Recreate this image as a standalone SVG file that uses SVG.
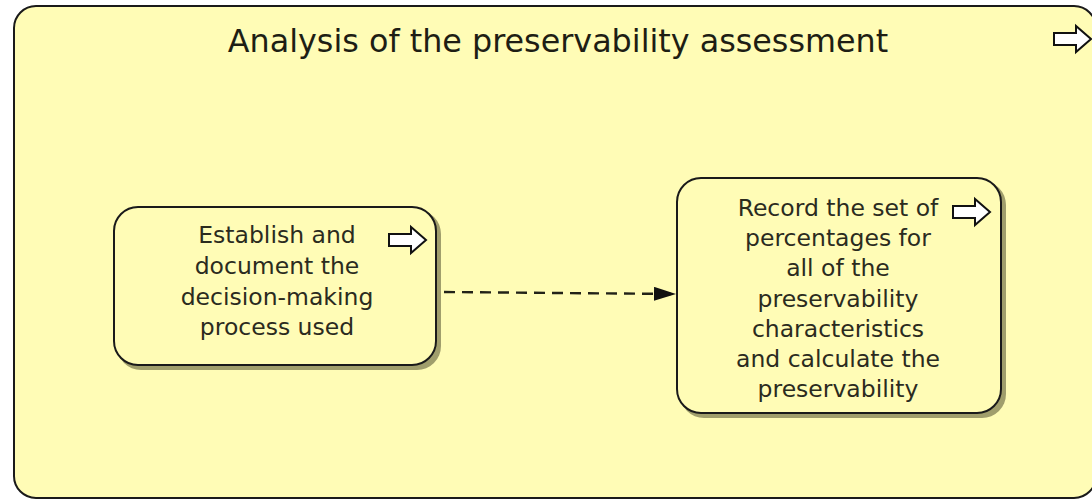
<svg xmlns="http://www.w3.org/2000/svg" width="1092" height="501" viewBox="0 0 1092 501">
  <style>
    .box { fill: #fffcb6; stroke: #1a1a1a; stroke-width: 2; }
    .shadow { fill: #a09e6c; }
    .label { font-family: "DejaVu Sans", sans-serif; font-size: 23.5px; fill: #2b2b1e; text-anchor: middle; }
    .title { font-family: "DejaVu Sans", sans-serif; font-size: 31.8px; fill: #1e1e14; text-anchor: middle; }
    .icon { fill: #ffffff; stroke: #111111; stroke-width: 2; stroke-linejoin: miter; }
    .flow { fill: none; stroke: #222218; stroke-width: 2.4; stroke-dasharray: 11 7; }
  </style>
  <defs>
    <marker id="head" viewBox="0 0 22 14" refX="22" refY="7" markerWidth="22" markerHeight="14" markerUnits="userSpaceOnUse" orient="auto">
      <path d="M0,0 L22,7 L0,14 Z" fill="#111111"/>
    </marker>
    <!-- block arrow glyph used in the corner of each activity -->
    <path id="arrowIcon" d="M0,7 L22,7 L22,0 L37,13 L22,26 L22,19 L0,19 Z"/>
  </defs>

  <rect width="1092" height="501" fill="#ffffff"/>

  <g id="container">
    <rect class="box" x="14" y="6" width="1082" height="492" rx="22" ry="22"/>
    <text class="title" x="558" y="52">Analysis of the preservability assessment</text>
    <use href="#arrowIcon" class="icon" x="1054" y="26"/>
  </g>

  <g id="node-establish">
    <rect class="shadow" x="117" y="210" width="324" height="160" rx="24" ry="24"/>
    <rect class="box" x="114" y="207" width="322" height="158" rx="24" ry="24"/>
    <text class="label" x="277" y="243">Establish and</text>
    <text class="label" x="277" y="274">document the</text>
    <text class="label" x="277" y="305">decision-making</text>
    <text class="label" x="277" y="335">process used</text>
    <use href="#arrowIcon" class="icon" x="389" y="227"/>
  </g>

  <g id="node-record">
    <rect class="shadow" x="680" y="181" width="326" height="237" rx="24" ry="24"/>
    <rect class="box" x="677" y="178" width="324" height="235" rx="24" ry="24"/>
    <text class="label" x="838" y="216">Record the set of</text>
    <text class="label" x="838" y="246">percentages for</text>
    <text class="label" x="838" y="276">all of the</text>
    <text class="label" x="838" y="307">preservability</text>
    <text class="label" x="838" y="337">characteristics</text>
    <text class="label" x="838" y="367">and calculate the</text>
    <text class="label" x="838" y="397">preservability</text>
    <use href="#arrowIcon" class="icon" x="953" y="199"/>
  </g>

  <g id="connectors">
    <path class="flow" d="M444,292 L676,294" marker-end="url(#head)"/>
  </g>
</svg>
